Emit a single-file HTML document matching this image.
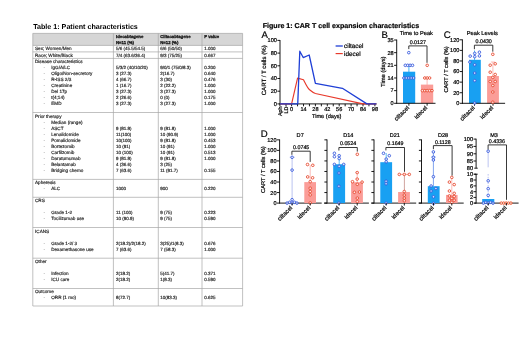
<!DOCTYPE html>
<html lang="en"><head><meta charset="utf-8"><title>Table 1 and Figure 1</title>
<style>html,body{margin:0;padding:0;background:#fff;width:520px;height:356px;overflow:hidden}svg{display:block}</style>
</head><body>
<svg width="520" height="356" viewBox="0 0 520 356" font-family="'Liberation Sans', Arial, Helvetica, sans-serif" text-rendering="geometricPrecision">
<rect width="520" height="356" fill="#fff"/>
<text x="33.2" y="28.9" font-size="7.15" font-weight="bold" fill="#000">Table 1: Patient characteristics</text>
<rect x="32.8" y="33.4" width="209.8" height="12.0" fill="#d6d6d6"/>
<g stroke="#a6a6a6" stroke-width="0.7" fill="none">
<line x1="32.8" y1="33.4" x2="242.6" y2="33.4"/>
<line x1="32.8" y1="45.4" x2="242.6" y2="45.4"/>
<line x1="32.8" y1="51.9" x2="242.6" y2="51.9"/>
<line x1="32.8" y1="58.4" x2="242.6" y2="58.4"/>
<line x1="32.8" y1="112.5" x2="242.6" y2="112.5"/>
<line x1="32.8" y1="179.4" x2="242.6" y2="179.4"/>
<line x1="32.8" y1="197.3" x2="242.6" y2="197.3"/>
<line x1="32.8" y1="227.5" x2="242.6" y2="227.5"/>
<line x1="32.8" y1="258.2" x2="242.6" y2="258.2"/>
<line x1="32.8" y1="288.5" x2="242.6" y2="288.5"/>
<line x1="32.8" y1="306.0" x2="242.6" y2="306.0"/>
<line x1="32.8" y1="33.4" x2="32.8" y2="306.0"/>
<line x1="113.4" y1="33.4" x2="113.4" y2="306.0"/>
<line x1="158.3" y1="33.4" x2="158.3" y2="306.0"/>
<line x1="202.0" y1="33.4" x2="202.0" y2="306.0"/>
<line x1="242.6" y1="33.4" x2="242.6" y2="306.0"/>
</g>
<g id="table-text" stroke="#222" stroke-width="0.16">
<text x="116.0" y="38.05" font-size="4.28" font-weight="bold" fill="#222" stroke="#111" stroke-width="0.28">Idecabtagene</text>
<text x="160.2" y="38.05" font-size="4.28" font-weight="bold" fill="#222" stroke="#111" stroke-width="0.28">Ciltacabtagene</text>
<text x="204.2" y="38.05" font-size="4.28" font-weight="bold" fill="#222" stroke="#111" stroke-width="0.28">P value</text>
<text x="116.0" y="44.05" font-size="4.28" font-weight="bold" fill="#222" stroke="#111" stroke-width="0.28">N=11 (%)</text>
<text x="160.2" y="44.05" font-size="4.28" font-weight="bold" fill="#222" stroke="#111" stroke-width="0.28">N=12 (%)</text>
<text x="35.0" y="50.45" font-size="4.64" fill="#222">Sex; Women/Men</text>
<text x="116.0" y="50.45" font-size="4.5" fill="#222">5/6 (45.5/54.5)</text>
<text x="160.2" y="50.45" font-size="4.5" fill="#222">6/6 (50/50)</text>
<text x="204.2" y="50.45" font-size="4.5" fill="#222">1.000</text>
<text x="35.0" y="56.95" font-size="4.64" fill="#222">Race; White/Black</text>
<text x="116.0" y="56.95" font-size="4.5" fill="#222">7/4 (63.6/36.4)</text>
<text x="160.2" y="56.95" font-size="4.5" fill="#222">9/3 (75/25)</text>
<text x="204.2" y="56.95" font-size="4.5" fill="#222">0.667</text>
<text x="35.0" y="63.05" font-size="4.64" fill="#222">Disease characteristics</text>
<text x="43.6" y="69.05" font-size="4.64" fill="#999" stroke="none">-</text>
<text x="51.2" y="69.05" font-size="4.64" fill="#222">IgG/A/LC</text>
<text x="116.0" y="69.05" font-size="4.5" fill="#222">5/3/2 (40/10/20)</text>
<text x="160.2" y="69.05" font-size="4.5" fill="#222">9/0/1 (75/0/8.3)</text>
<text x="204.2" y="69.05" font-size="4.5" fill="#222">0.200</text>
<text x="43.6" y="75.05" font-size="4.64" fill="#999" stroke="none">-</text>
<text x="51.2" y="75.05" font-size="4.64" fill="#222">Oligo/Non-secretory</text>
<text x="116.0" y="75.05" font-size="4.5" fill="#222">3 (27.3)</text>
<text x="160.2" y="75.05" font-size="4.5" fill="#222">2(16.7)</text>
<text x="204.2" y="75.05" font-size="4.5" fill="#222">0.640</text>
<text x="43.6" y="81.05" font-size="4.64" fill="#999" stroke="none">-</text>
<text x="51.2" y="81.05" font-size="4.64" fill="#222">R-ISS 2/3</text>
<text x="116.0" y="81.05" font-size="4.5" fill="#222">4 (66.7)</text>
<text x="160.2" y="81.05" font-size="4.5" fill="#222">3 (30)</text>
<text x="204.2" y="81.05" font-size="4.5" fill="#222">0.476</text>
<text x="43.6" y="87.05" font-size="4.64" fill="#999" stroke="none">-</text>
<text x="51.2" y="87.05" font-size="4.64" fill="#222">Creatinine</text>
<text x="116.0" y="87.05" font-size="4.5" fill="#222">1 (16.7)</text>
<text x="160.2" y="87.05" font-size="4.5" fill="#222">2 (22.2)</text>
<text x="204.2" y="87.05" font-size="4.5" fill="#222">1.000</text>
<text x="43.6" y="93.05" font-size="4.64" fill="#999" stroke="none">-</text>
<text x="51.2" y="93.05" font-size="4.64" fill="#222">Del 17p</text>
<text x="116.0" y="93.05" font-size="4.5" fill="#222">3 (27.3)</text>
<text x="160.2" y="93.05" font-size="4.5" fill="#222">3 (27.3)</text>
<text x="204.2" y="93.05" font-size="4.5" fill="#222">1.000</text>
<text x="43.6" y="99.05" font-size="4.64" fill="#999" stroke="none">-</text>
<text x="51.2" y="99.05" font-size="4.64" fill="#222">t(4;14)</text>
<text x="116.0" y="99.05" font-size="4.5" fill="#222">2 (26.6)</text>
<text x="160.2" y="99.05" font-size="4.5" fill="#222">0 (0)</text>
<text x="204.2" y="99.05" font-size="4.5" fill="#222">0.175</text>
<text x="43.6" y="105.05" font-size="4.64" fill="#999" stroke="none">-</text>
<text x="51.2" y="105.05" font-size="4.64" fill="#222">EMD</text>
<text x="116.0" y="105.05" font-size="4.5" fill="#222">3 (27.3)</text>
<text x="160.2" y="105.05" font-size="4.5" fill="#222">3 (27.3)</text>
<text x="204.2" y="105.05" font-size="4.5" fill="#222">1.000</text>
<text x="35.0" y="117.65" font-size="4.64" fill="#222">Prior therapy</text>
<text x="43.6" y="123.55" font-size="4.64" fill="#999" stroke="none">-</text>
<text x="51.2" y="123.55" font-size="4.64" fill="#222">Median (range)</text>
<text x="43.6" y="129.55" font-size="4.64" fill="#999" stroke="none">-</text>
<text x="51.2" y="129.55" font-size="4.64" fill="#222">ASCT</text>
<text x="116.0" y="129.55" font-size="4.5" fill="#222">9 (81.8)</text>
<text x="160.2" y="129.55" font-size="4.5" fill="#222">9 (81.8)</text>
<text x="204.2" y="129.55" font-size="4.5" fill="#222">1.000</text>
<text x="43.6" y="135.55" font-size="4.64" fill="#999" stroke="none">-</text>
<text x="51.2" y="135.55" font-size="4.64" fill="#222">Lenalidomide</text>
<text x="116.0" y="135.55" font-size="4.5" fill="#222">11(100)</text>
<text x="160.2" y="135.55" font-size="4.5" fill="#222">10 (90.9)</text>
<text x="204.2" y="135.55" font-size="4.5" fill="#222">1.000</text>
<text x="43.6" y="141.55" font-size="4.64" fill="#999" stroke="none">-</text>
<text x="51.2" y="141.55" font-size="4.64" fill="#222">Pomalidomide</text>
<text x="116.0" y="141.55" font-size="4.5" fill="#222">10(100)</text>
<text x="160.2" y="141.55" font-size="4.5" fill="#222">9 (81.8)</text>
<text x="204.2" y="141.55" font-size="4.5" fill="#222">0.453</text>
<text x="43.6" y="147.55" font-size="4.64" fill="#999" stroke="none">-</text>
<text x="51.2" y="147.55" font-size="4.64" fill="#222">Bortezomib</text>
<text x="116.0" y="147.55" font-size="4.5" fill="#222">10 (91)</text>
<text x="160.2" y="147.55" font-size="4.5" fill="#222">10 (91)</text>
<text x="204.2" y="147.55" font-size="4.5" fill="#222">1.000</text>
<text x="43.6" y="153.55" font-size="4.64" fill="#999" stroke="none">-</text>
<text x="51.2" y="153.55" font-size="4.64" fill="#222">Carfilzomib</text>
<text x="116.0" y="153.55" font-size="4.5" fill="#222">10 (100)</text>
<text x="160.2" y="153.55" font-size="4.5" fill="#222">10 (91)</text>
<text x="204.2" y="153.55" font-size="4.5" fill="#222">0.513</text>
<text x="43.6" y="159.55" font-size="4.64" fill="#999" stroke="none">-</text>
<text x="51.2" y="159.55" font-size="4.64" fill="#222">Daratumumab</text>
<text x="116.0" y="159.55" font-size="4.5" fill="#222">9 (81.8)</text>
<text x="160.2" y="159.55" font-size="4.5" fill="#222">9 (81.8)</text>
<text x="204.2" y="159.55" font-size="4.5" fill="#222">1.000</text>
<text x="43.6" y="165.55" font-size="4.64" fill="#999" stroke="none">-</text>
<text x="51.2" y="165.55" font-size="4.64" fill="#222">Belantamab</text>
<text x="116.0" y="165.55" font-size="4.5" fill="#222">4 (36.6)</text>
<text x="160.2" y="165.55" font-size="4.5" fill="#222">3 (25)</text>
<text x="43.6" y="171.55" font-size="4.64" fill="#999" stroke="none">-</text>
<text x="51.2" y="171.55" font-size="4.64" fill="#222">Bridging chemo</text>
<text x="116.0" y="171.55" font-size="4.5" fill="#222">7 (63.6)</text>
<text x="160.2" y="171.55" font-size="4.5" fill="#222">11 (91.7)</text>
<text x="204.2" y="171.55" font-size="4.5" fill="#222">0.155</text>
<text x="35.0" y="184.05" font-size="4.64" fill="#222">Apheresis</text>
<text x="43.6" y="190.05" font-size="4.64" fill="#999" stroke="none">-</text>
<text x="51.2" y="190.05" font-size="4.64" fill="#222">ALC</text>
<text x="116.0" y="190.05" font-size="4.5" fill="#222">1000</text>
<text x="160.2" y="190.05" font-size="4.5" fill="#222">900</text>
<text x="204.2" y="190.05" font-size="4.5" fill="#222">0.220</text>
<text x="35.0" y="202.35" font-size="4.64" fill="#222">CRS</text>
<text x="43.6" y="214.35" font-size="4.64" fill="#999" stroke="none">-</text>
<text x="51.2" y="214.35" font-size="4.64" fill="#222">Grade  1-2</text>
<text x="116.0" y="214.35" font-size="4.5" fill="#222">11 (100)</text>
<text x="160.2" y="214.35" font-size="4.5" fill="#222">9 (75)</text>
<text x="204.2" y="214.35" font-size="4.5" fill="#222">0.223</text>
<text x="43.6" y="220.35" font-size="4.64" fill="#999" stroke="none">-</text>
<text x="51.2" y="220.35" font-size="4.64" fill="#222">Tocilizumab use</text>
<text x="116.0" y="220.35" font-size="4.5" fill="#222">10 (90.9)</text>
<text x="160.2" y="220.35" font-size="4.5" fill="#222">9 (75)</text>
<text x="204.2" y="220.35" font-size="4.5" fill="#222">0.590</text>
<text x="35.0" y="232.55" font-size="4.64" fill="#222">ICANS</text>
<text x="43.6" y="244.55" font-size="4.64" fill="#999" stroke="none">-</text>
<text x="51.2" y="244.55" font-size="4.64" fill="#222">Grade 1-2/ 3</text>
<text x="116.0" y="244.55" font-size="4.5" fill="#222">2(18.2)/2(18.2)</text>
<text x="160.2" y="244.55" font-size="4.5" fill="#222">3(25)/1(8.3)</text>
<text x="204.2" y="244.55" font-size="4.5" fill="#222">0.676</text>
<text x="43.6" y="250.75" font-size="4.64" fill="#999" stroke="none">-</text>
<text x="51.2" y="250.75" font-size="4.64" fill="#222">Dexamethasone use</text>
<text x="116.0" y="250.75" font-size="4.5" fill="#222">7 (63.6)</text>
<text x="160.2" y="250.75" font-size="4.5" fill="#222">7 (58.3)</text>
<text x="204.2" y="250.75" font-size="4.5" fill="#222">1.000</text>
<text x="35.0" y="262.75" font-size="4.64" fill="#222">Other</text>
<text x="43.6" y="275.05" font-size="4.64" fill="#999" stroke="none">-</text>
<text x="51.2" y="275.05" font-size="4.64" fill="#222">Infection</text>
<text x="116.0" y="275.05" font-size="4.5" fill="#222">2(18.2)</text>
<text x="160.2" y="275.05" font-size="4.5" fill="#222">5(41.7)</text>
<text x="204.2" y="275.05" font-size="4.5" fill="#222">0.371</text>
<text x="43.6" y="281.05" font-size="4.64" fill="#999" stroke="none">-</text>
<text x="51.2" y="281.05" font-size="4.64" fill="#222">ICU care</text>
<text x="116.0" y="281.05" font-size="4.5" fill="#222">2(18.2)</text>
<text x="160.2" y="281.05" font-size="4.5" fill="#222">1(8.3)</text>
<text x="204.2" y="281.05" font-size="4.5" fill="#222">0.590</text>
<text x="35.0" y="293.35" font-size="4.64" fill="#222">Outcome</text>
<text x="43.6" y="299.35" font-size="4.64" fill="#999" stroke="none">-</text>
<text x="51.2" y="299.35" font-size="4.64" fill="#222">ORR (1 mo)</text>
<text x="116.0" y="299.35" font-size="4.5" fill="#222">8(72.7)</text>
<text x="160.2" y="299.35" font-size="4.5" fill="#222">10(83.3)</text>
<text x="204.2" y="299.35" font-size="4.5" fill="#222">0.625</text>
</g>
<text x="262.7" y="27.7" font-size="7.1" font-weight="bold" fill="#000" stroke="#000" stroke-width="0.2">Figure 1: CAR T cell expansion characteristics</text>
<text x="261.5" y="37.6" font-size="9.6" fill="#000" stroke="#000" stroke-width="0.2">A</text>
<line x1="280.0" y1="40.0" x2="280.0" y2="104.30000000000001" stroke="#000" stroke-width="0.9"/>
<line x1="279.6" y1="103.9" x2="376.5" y2="103.9" stroke="#000" stroke-width="0.9"/>
<line x1="277.4" y1="103.9" x2="280.0" y2="103.9" stroke="#000" stroke-width="0.9"/>
<text x="276.9" y="105.75" font-size="5.6" text-anchor="end" fill="#000" stroke="#000" stroke-width="0.2">0</text>
<line x1="277.4" y1="91.2" x2="280.0" y2="91.2" stroke="#000" stroke-width="0.9"/>
<text x="276.9" y="93.05" font-size="5.6" text-anchor="end" fill="#000" stroke="#000" stroke-width="0.2">20</text>
<line x1="277.4" y1="78.5" x2="280.0" y2="78.5" stroke="#000" stroke-width="0.9"/>
<text x="276.9" y="80.35" font-size="5.6" text-anchor="end" fill="#000" stroke="#000" stroke-width="0.2">40</text>
<line x1="277.4" y1="65.8" x2="280.0" y2="65.8" stroke="#000" stroke-width="0.9"/>
<text x="276.9" y="67.64999999999999" font-size="5.6" text-anchor="end" fill="#000" stroke="#000" stroke-width="0.2">60</text>
<line x1="277.4" y1="53.1" x2="280.0" y2="53.1" stroke="#000" stroke-width="0.9"/>
<text x="276.9" y="54.95" font-size="5.6" text-anchor="end" fill="#000" stroke="#000" stroke-width="0.2">80</text>
<line x1="277.4" y1="40.4" x2="280.0" y2="40.4" stroke="#000" stroke-width="0.9"/>
<text x="276.9" y="42.25" font-size="5.6" text-anchor="end" fill="#000" stroke="#000" stroke-width="0.2">100</text>
<line x1="291.6" y1="103.9" x2="291.6" y2="106.30000000000001" stroke="#000" stroke-width="0.9"/>
<line x1="297.55" y1="103.9" x2="297.55" y2="106.30000000000001" stroke="#000" stroke-width="0.9"/>
<line x1="303.5" y1="103.9" x2="303.5" y2="106.30000000000001" stroke="#000" stroke-width="0.9"/>
<line x1="309.45" y1="103.9" x2="309.45" y2="106.30000000000001" stroke="#000" stroke-width="0.9"/>
<line x1="315.4" y1="103.9" x2="315.4" y2="106.30000000000001" stroke="#000" stroke-width="0.9"/>
<line x1="321.35" y1="103.9" x2="321.35" y2="106.30000000000001" stroke="#000" stroke-width="0.9"/>
<line x1="327.3" y1="103.9" x2="327.3" y2="106.30000000000001" stroke="#000" stroke-width="0.9"/>
<line x1="333.25" y1="103.9" x2="333.25" y2="106.30000000000001" stroke="#000" stroke-width="0.9"/>
<line x1="339.2" y1="103.9" x2="339.2" y2="106.30000000000001" stroke="#000" stroke-width="0.9"/>
<line x1="345.15" y1="103.9" x2="345.15" y2="106.30000000000001" stroke="#000" stroke-width="0.9"/>
<line x1="351.1" y1="103.9" x2="351.1" y2="106.30000000000001" stroke="#000" stroke-width="0.9"/>
<line x1="357.05" y1="103.9" x2="357.05" y2="106.30000000000001" stroke="#000" stroke-width="0.9"/>
<line x1="363.0" y1="103.9" x2="363.0" y2="106.30000000000001" stroke="#000" stroke-width="0.9"/>
<line x1="368.95" y1="103.9" x2="368.95" y2="106.30000000000001" stroke="#000" stroke-width="0.9"/>
<line x1="374.9" y1="103.9" x2="374.9" y2="106.30000000000001" stroke="#000" stroke-width="0.9"/>
<text x="303.5" y="111.2" font-size="5.6" text-anchor="middle" fill="#000" stroke="#000" stroke-width="0.2">14</text>
<text x="315.4" y="111.2" font-size="5.6" text-anchor="middle" fill="#000" stroke="#000" stroke-width="0.2">28</text>
<text x="327.3" y="111.2" font-size="5.6" text-anchor="middle" fill="#000" stroke="#000" stroke-width="0.2">42</text>
<text x="339.2" y="111.2" font-size="5.6" text-anchor="middle" fill="#000" stroke="#000" stroke-width="0.2">56</text>
<text x="351.1" y="111.2" font-size="5.6" text-anchor="middle" fill="#000" stroke="#000" stroke-width="0.2">70</text>
<text x="363.0" y="111.2" font-size="5.6" text-anchor="middle" fill="#000" stroke="#000" stroke-width="0.2">84</text>
<text x="374.9" y="111.2" font-size="5.6" text-anchor="middle" fill="#000" stroke="#000" stroke-width="0.2">98</text>
<text x="291.6" y="111.2" font-size="5.6" text-anchor="middle" fill="#000" stroke="#000" stroke-width="0.2">0</text>
<line x1="279.9" y1="103.9" x2="279.9" y2="106.30000000000001" stroke="#000" stroke-width="0.9"/>
<text x="281.79999999999995" y="106.5" font-size="5.4" text-anchor="end" fill="#000" transform="rotate(-90 281.79999999999995 106.5)" stroke="#000" stroke-width="0.2">Aph</text>
<line x1="286.0" y1="103.9" x2="286.0" y2="106.30000000000001" stroke="#000" stroke-width="0.9"/>
<text x="287.9" y="106.5" font-size="5.4" text-anchor="end" fill="#000" transform="rotate(-90 287.9 106.5)" stroke="#000" stroke-width="0.2">LD</text>
<text x="326.7" y="118.4" font-size="5.65" text-anchor="middle" fill="#000" stroke="#000" stroke-width="0.2">Time (days)</text>
<text x="266.4" y="70.3" font-size="6.1" text-anchor="middle" fill="#000" transform="rotate(-90 266.4 70.3)" stroke="#000" stroke-width="0.2">CART / T cells (%)</text>
<path d="M280.0,103.9 L291.6,103.9 L297.55,78.18 L303.5,79.77 C306.05,84.85 307.75,88.66 309.88,90.06 C312.0,91.84 313.7,92.91 315.4,93.55 L363.0,103.9 L376.3,103.9" fill="none" stroke="#e8392b" stroke-width="1.15" stroke-linejoin="round"/>
<polyline points="280.0,103.9 297.75,103.9 299.8,51.19 303.2,57.54 309.2,55.0 315.4,83.33 342.4,88.28 366.9,103.9 376.3,103.9" fill="none" stroke="#1f3fd6" stroke-width="1.3" stroke-linejoin="round"/>
<line x1="335.6" y1="46.0" x2="342.8" y2="46.0" stroke="#1f3fd6" stroke-width="1.3"/>
<line x1="335.6" y1="53.6" x2="342.8" y2="53.6" stroke="#e8392b" stroke-width="1.15"/>
<text x="344.1" y="48.2" font-size="6.35" fill="#000" stroke="#000" stroke-width="0.2">ciltacel</text>
<text x="344.1" y="55.8" font-size="6.35" fill="#000" stroke="#000" stroke-width="0.2">idecel</text>
<text x="381.6" y="38.0" font-size="9.6" fill="#000" stroke="#000" stroke-width="0.2">B</text>
<text x="416.3" y="35.3" font-size="5.7" text-anchor="middle" fill="#000" stroke="#000" stroke-width="0.2">Time to Peak</text>
<rect x="403.0" y="71.7" width="12.2" height="31.6" fill="#18a0f2"/>
<rect x="420.9" y="84.6" width="12.3" height="18.7" fill="#fb9d98"/>
<line x1="408.9" y1="65.5" x2="408.9" y2="72" stroke="#18a0f2" stroke-width="0.8"/>
<line x1="427.1" y1="77.8" x2="427.1" y2="93.6" stroke="#fb9d98" stroke-width="0.7"/>
<line x1="396.7" y1="39.6" x2="396.7" y2="103.7" stroke="#000" stroke-width="0.9"/>
<line x1="396.3" y1="103.3" x2="435.5" y2="103.3" stroke="#000" stroke-width="0.9"/>
<line x1="394.09999999999997" y1="103.3" x2="396.7" y2="103.3" stroke="#000" stroke-width="0.9"/>
<text x="393.7" y="105.14999999999999" font-size="5.6" text-anchor="end" fill="#000" stroke="#000" stroke-width="0.2">0</text>
<line x1="394.09999999999997" y1="90.64" x2="396.7" y2="90.64" stroke="#000" stroke-width="0.9"/>
<text x="393.7" y="92.49" font-size="5.6" text-anchor="end" fill="#000" stroke="#000" stroke-width="0.2">7</text>
<line x1="394.09999999999997" y1="77.98" x2="396.7" y2="77.98" stroke="#000" stroke-width="0.9"/>
<text x="393.7" y="79.83" font-size="5.6" text-anchor="end" fill="#000" stroke="#000" stroke-width="0.2">14</text>
<line x1="394.09999999999997" y1="65.32" x2="396.7" y2="65.32" stroke="#000" stroke-width="0.9"/>
<text x="393.7" y="67.16999999999999" font-size="5.6" text-anchor="end" fill="#000" stroke="#000" stroke-width="0.2">21</text>
<line x1="394.09999999999997" y1="52.66" x2="396.7" y2="52.66" stroke="#000" stroke-width="0.9"/>
<text x="393.7" y="54.51" font-size="5.6" text-anchor="end" fill="#000" stroke="#000" stroke-width="0.2">28</text>
<line x1="394.09999999999997" y1="40.0" x2="396.7" y2="40.0" stroke="#000" stroke-width="0.9"/>
<text x="393.7" y="41.85" font-size="5.6" text-anchor="end" fill="#000" stroke="#000" stroke-width="0.2">35</text>
<line x1="408.9" y1="103.3" x2="408.9" y2="105.7" stroke="#000" stroke-width="0.9"/>
<line x1="427.1" y1="103.3" x2="427.1" y2="105.7" stroke="#000" stroke-width="0.9"/>
<text x="384.7" y="71.7" font-size="5.8" text-anchor="middle" fill="#000" transform="rotate(-90 384.7 71.7)" stroke="#000" stroke-width="0.2">Time (days)</text>
<g fill="#fff" fill-opacity="0.75" stroke="#3558dc" stroke-width="0.9">
<circle cx="408.8" cy="52.66" r="1.3"/>
<circle cx="405.3" cy="65.32" r="1.3"/>
<circle cx="407.7" cy="65.32" r="1.3"/>
<circle cx="410.1" cy="65.32" r="1.3"/>
<circle cx="412.5" cy="65.32" r="1.3"/>
<circle cx="403.9" cy="77.98" r="1.3"/>
<circle cx="406.3" cy="77.98" r="1.3"/>
<circle cx="408.8" cy="77.98" r="1.3"/>
<circle cx="411.2" cy="77.98" r="1.3"/>
<circle cx="413.6" cy="77.98" r="1.3"/>
</g>
<g fill="#fff" fill-opacity="0.75" stroke="#e6482f" stroke-width="0.9">
<circle cx="427.2" cy="65.32" r="1.3"/>
<circle cx="424.8" cy="77.98" r="1.3"/>
<circle cx="427.2" cy="77.98" r="1.3"/>
<circle cx="429.6" cy="77.98" r="1.3"/>
<circle cx="422.4" cy="90.64" r="1.3"/>
<circle cx="424.8" cy="90.64" r="1.3"/>
<circle cx="427.2" cy="90.64" r="1.3"/>
<circle cx="429.6" cy="90.64" r="1.3"/>
<circle cx="432.0" cy="90.64" r="1.3"/>
</g>
<path d="M408.8,49.1 V45.9 H427.0 V62.8" fill="none" stroke="#222" stroke-width="0.9"/>
<text x="417.8" y="43.6" font-size="5.3" text-anchor="middle" fill="#000" stroke="#000" stroke-width="0.2">0.0127</text>
<text x="409.59999999999997" y="108.3" font-size="6.0" text-anchor="end" fill="#222" transform="rotate(-45 409.59999999999997 108.3)" stroke="#000" stroke-width="0.2">ciltacel</text>
<text x="427.8" y="108.3" font-size="6.0" text-anchor="end" fill="#222" transform="rotate(-45 427.8 108.3)" stroke="#000" stroke-width="0.2">idecel</text>
<text x="443.8" y="38.0" font-size="9.6" fill="#000" stroke="#000" stroke-width="0.2">C</text>
<text x="482.3" y="35.3" font-size="5.7" text-anchor="middle" fill="#000" stroke="#000" stroke-width="0.2">Peak Levels</text>
<rect x="469.0" y="59.8" width="11.8" height="43.5" fill="#18a0f2"/>
<rect x="487.1" y="76.0" width="11.8" height="27.3" fill="#fb9d98"/>
<line x1="474.5" y1="50.5" x2="474.5" y2="60" stroke="#18a0f2" stroke-width="0.7"/>
<line x1="492.9" y1="62.0" x2="492.9" y2="90.0" stroke="#fb9d98" stroke-width="0.7"/>
<line x1="490.9" y1="62.0" x2="494.9" y2="62.0" stroke="#fb9d98" stroke-width="0.7"/>
<line x1="462.4" y1="39.4" x2="462.4" y2="103.7" stroke="#000" stroke-width="0.9"/>
<line x1="462.0" y1="103.3" x2="505.1" y2="103.3" stroke="#000" stroke-width="0.9"/>
<line x1="459.79999999999995" y1="103.3" x2="462.4" y2="103.3" stroke="#000" stroke-width="0.9"/>
<text x="459.4" y="105.14999999999999" font-size="5.6" text-anchor="end" fill="#000" stroke="#000" stroke-width="0.2">0</text>
<line x1="459.79999999999995" y1="92.72" x2="462.4" y2="92.72" stroke="#000" stroke-width="0.9"/>
<text x="459.4" y="94.57" font-size="5.6" text-anchor="end" fill="#000" stroke="#000" stroke-width="0.2">20</text>
<line x1="459.79999999999995" y1="82.13" x2="462.4" y2="82.13" stroke="#000" stroke-width="0.9"/>
<text x="459.4" y="83.97999999999999" font-size="5.6" text-anchor="end" fill="#000" stroke="#000" stroke-width="0.2">40</text>
<line x1="459.79999999999995" y1="71.55" x2="462.4" y2="71.55" stroke="#000" stroke-width="0.9"/>
<text x="459.4" y="73.39999999999999" font-size="5.6" text-anchor="end" fill="#000" stroke="#000" stroke-width="0.2">60</text>
<line x1="459.79999999999995" y1="60.97" x2="462.4" y2="60.97" stroke="#000" stroke-width="0.9"/>
<text x="459.4" y="62.82" font-size="5.6" text-anchor="end" fill="#000" stroke="#000" stroke-width="0.2">80</text>
<line x1="459.79999999999995" y1="50.38" x2="462.4" y2="50.38" stroke="#000" stroke-width="0.9"/>
<text x="459.4" y="52.230000000000004" font-size="5.6" text-anchor="end" fill="#000" stroke="#000" stroke-width="0.2">100</text>
<line x1="459.79999999999995" y1="39.8" x2="462.4" y2="39.8" stroke="#000" stroke-width="0.9"/>
<text x="459.4" y="41.65" font-size="5.6" text-anchor="end" fill="#000" stroke="#000" stroke-width="0.2">120</text>
<line x1="474.5" y1="103.3" x2="474.5" y2="105.7" stroke="#000" stroke-width="0.9"/>
<line x1="493.0" y1="103.3" x2="493.0" y2="105.7" stroke="#000" stroke-width="0.9"/>
<text x="448.4" y="69.4" font-size="5.65" text-anchor="middle" fill="#000" transform="rotate(-90 448.4 69.4)" stroke="#000" stroke-width="0.2">CART / T cells (%)</text>
<g fill="#fff" fill-opacity="0.75" stroke="#3558dc" stroke-width="0.9">
<circle cx="470.2" cy="56.1" r="1.3"/>
<circle cx="474.7" cy="53.4" r="1.3"/>
<circle cx="479.4" cy="52.2" r="1.3"/>
<circle cx="474.7" cy="56.7" r="1.3"/>
<circle cx="479.4" cy="55.9" r="1.3"/>
<circle cx="469.9" cy="62.1" r="1.3"/>
<circle cx="474.7" cy="64.8" r="1.3"/>
<circle cx="474.7" cy="73.1" r="1.3"/>
<circle cx="474.7" cy="80.6" r="1.3"/>
<circle cx="474.7" cy="103.0" r="1.3"/>
</g>
<g fill="#fff" fill-opacity="0.75" stroke="#e6482f" stroke-width="0.9">
<circle cx="492.8" cy="54.3" r="1.3"/>
<circle cx="490.2" cy="65.2" r="1.3"/>
<circle cx="495.2" cy="63.8" r="1.3"/>
<circle cx="490.2" cy="72.2" r="1.3"/>
<circle cx="495.2" cy="74.5" r="1.3"/>
<circle cx="492.8" cy="77.4" r="1.3"/>
<circle cx="490.2" cy="81.5" r="1.3"/>
<circle cx="495.2" cy="81.5" r="1.3"/>
<circle cx="492.8" cy="85.5" r="1.3"/>
<circle cx="492.8" cy="92.0" r="1.3"/>
<circle cx="492.8" cy="102.2" r="1.3"/>
</g>
<path d="M474.4,49.2 V45.2 H492.8 V51.7" fill="none" stroke="#222" stroke-width="0.9"/>
<text x="483.7" y="43.4" font-size="5.3" text-anchor="middle" fill="#000" stroke="#000" stroke-width="0.2">0.0430</text>
<text x="475.2" y="108.3" font-size="6.0" text-anchor="end" fill="#222" transform="rotate(-45 475.2 108.3)" stroke="#000" stroke-width="0.2">ciltacel</text>
<text x="493.7" y="108.3" font-size="6.0" text-anchor="end" fill="#222" transform="rotate(-45 493.7 108.3)" stroke="#000" stroke-width="0.2">idecel</text>
<text x="260.7" y="137.4" font-size="9.6" fill="#000" stroke="#000" stroke-width="0.2">D</text>
<line x1="279.6" y1="139.45" x2="279.6" y2="203.5" stroke="#000" stroke-width="0.9"/>
<line x1="279.20000000000005" y1="203.1" x2="321.7" y2="203.1" stroke="#000" stroke-width="0.9"/>
<line x1="277.0" y1="203.1" x2="279.6" y2="203.1" stroke="#000" stroke-width="0.9"/>
<text x="276.6" y="205.04999999999998" font-size="5.6" text-anchor="end" fill="#000" stroke="#000" stroke-width="0.2">0</text>
<line x1="277.0" y1="192.56" x2="279.6" y2="192.56" stroke="#000" stroke-width="0.9"/>
<text x="276.6" y="194.51" font-size="5.6" text-anchor="end" fill="#000" stroke="#000" stroke-width="0.2">20</text>
<line x1="277.0" y1="182.02" x2="279.6" y2="182.02" stroke="#000" stroke-width="0.9"/>
<text x="276.6" y="183.97" font-size="5.6" text-anchor="end" fill="#000" stroke="#000" stroke-width="0.2">40</text>
<line x1="277.0" y1="171.47" x2="279.6" y2="171.47" stroke="#000" stroke-width="0.9"/>
<text x="276.6" y="173.42" font-size="5.6" text-anchor="end" fill="#000" stroke="#000" stroke-width="0.2">60</text>
<line x1="277.0" y1="160.93" x2="279.6" y2="160.93" stroke="#000" stroke-width="0.9"/>
<text x="276.6" y="162.88" font-size="5.6" text-anchor="end" fill="#000" stroke="#000" stroke-width="0.2">80</text>
<line x1="277.0" y1="150.39" x2="279.6" y2="150.39" stroke="#000" stroke-width="0.9"/>
<text x="276.6" y="152.33999999999997" font-size="5.6" text-anchor="end" fill="#000" stroke="#000" stroke-width="0.2">100</text>
<line x1="277.0" y1="139.85" x2="279.6" y2="139.85" stroke="#000" stroke-width="0.9"/>
<text x="276.6" y="141.79999999999998" font-size="5.6" text-anchor="end" fill="#000" stroke="#000" stroke-width="0.2">120</text>
<text x="264.7" y="169.6" font-size="5.7" text-anchor="middle" fill="#000" transform="rotate(-90 264.7 169.6)" stroke="#000" stroke-width="0.2">CART / T cells (%)</text>
<text x="300.2" y="137.3" font-size="5.6" text-anchor="middle" fill="#000" stroke="#000" stroke-width="0.2">D7</text>
<line x1="292.1" y1="157.3" x2="292.1" y2="203" stroke="#a9b4ee" stroke-width="0.8"/>
<line x1="289.7" y1="157.3" x2="294.8" y2="157.3" stroke="#a9b4ee" stroke-width="0.8"/>
<rect x="304.3" y="182.1" width="11.7" height="21.0" fill="#fb9d98"/>
<line x1="310.2" y1="165" x2="310.2" y2="200" stroke="#fb9d98" stroke-width="0.7"/>
<g fill="#fff" fill-opacity="0.75" stroke="#3558dc" stroke-width="0.9">
<circle cx="292.1" cy="157.3" r="1.3"/>
<circle cx="292.1" cy="170.1" r="1.3"/>
<circle cx="287.1" cy="203.1" r="1.3"/>
<circle cx="289.7" cy="202.3" r="1.3"/>
<circle cx="292.1" cy="199.7" r="1.3"/>
<circle cx="292.1" cy="203.1" r="1.3"/>
<circle cx="294.5" cy="202.3" r="1.3"/>
<circle cx="296.9" cy="203.1" r="1.3"/>
</g>
<g fill="#fff" fill-opacity="0.75" stroke="#e6482f" stroke-width="0.9">
<circle cx="307.5" cy="164.5" r="1.3"/>
<circle cx="312.8" cy="165.3" r="1.3"/>
<circle cx="307.7" cy="176.9" r="1.3"/>
<circle cx="312.6" cy="177.8" r="1.3"/>
<circle cx="310.2" cy="181.7" r="1.3"/>
<circle cx="310.2" cy="188.2" r="1.3"/>
<circle cx="310.2" cy="191.5" r="1.3"/>
<circle cx="310.2" cy="194.9" r="1.3"/>
<circle cx="310.2" cy="202.9" r="1.3"/>
</g>
<line x1="292.1" y1="203.1" x2="292.1" y2="205.5" stroke="#000" stroke-width="0.9"/>
<line x1="310.2" y1="203.1" x2="310.2" y2="205.5" stroke="#000" stroke-width="0.9"/>
<path d="M291.9,154.8 V151.2 H310.2 V161.9" fill="none" stroke="#222" stroke-width="0.9"/>
<text x="301.2" y="149.0" font-size="5.3" text-anchor="middle" fill="#000" stroke="#000" stroke-width="0.2">0.0745</text>
<text x="292.8" y="208.29999999999998" font-size="6.0" text-anchor="end" fill="#222" transform="rotate(-45 292.8 208.29999999999998)" stroke="#000" stroke-width="0.2">ciltacel</text>
<text x="310.9" y="208.29999999999998" font-size="6.0" text-anchor="end" fill="#222" transform="rotate(-45 310.9 208.29999999999998)" stroke="#000" stroke-width="0.2">idecel</text>
<line x1="327.0" y1="139.45" x2="327.0" y2="203.5" stroke="#000" stroke-width="0.9"/>
<line x1="324.1" y1="203.1" x2="368.9" y2="203.1" stroke="#000" stroke-width="0.9"/>
<line x1="324.4" y1="203.1" x2="327.0" y2="203.1" stroke="#000" stroke-width="0.9"/>
<line x1="324.4" y1="192.56" x2="327.0" y2="192.56" stroke="#000" stroke-width="0.9"/>
<line x1="324.4" y1="182.02" x2="327.0" y2="182.02" stroke="#000" stroke-width="0.9"/>
<line x1="324.4" y1="171.47" x2="327.0" y2="171.47" stroke="#000" stroke-width="0.9"/>
<line x1="324.4" y1="160.93" x2="327.0" y2="160.93" stroke="#000" stroke-width="0.9"/>
<line x1="324.4" y1="150.39" x2="327.0" y2="150.39" stroke="#000" stroke-width="0.9"/>
<line x1="324.4" y1="139.85" x2="327.0" y2="139.85" stroke="#000" stroke-width="0.9"/>
<text x="348.3" y="137.3" font-size="5.5" text-anchor="middle" fill="#000" stroke="#000" stroke-width="0.2">D14</text>
<rect x="333.2" y="164.3" width="11.9" height="38.8" fill="#18a0f2"/>
<rect x="351.1" y="182.2" width="11.8" height="20.9" fill="#fb9d98"/>
<line x1="339.2" y1="155" x2="339.2" y2="165" stroke="#18a0f2" stroke-width="0.7"/>
<line x1="357.2" y1="172.4" x2="357.2" y2="200" stroke="#fb9d98" stroke-width="0.7"/>
<line x1="355.6" y1="172.4" x2="358.8" y2="172.4" stroke="#fb9d98" stroke-width="0.7"/>
<g fill="#fff" fill-opacity="0.75" stroke="#3558dc" stroke-width="0.9">
<circle cx="334.4" cy="153.3" r="1.3"/>
<circle cx="334.4" cy="156.7" r="1.3"/>
<circle cx="339.2" cy="155.7" r="1.3"/>
<circle cx="339.2" cy="158.6" r="1.3"/>
<circle cx="334.4" cy="164.4" r="1.3"/>
<circle cx="339.2" cy="166.3" r="1.3"/>
<circle cx="343.7" cy="164.4" r="1.3"/>
<circle cx="339.0" cy="173.0" r="1.3"/>
<circle cx="338.9" cy="186.2" r="1.3"/>
<circle cx="338.9" cy="203.1" r="1.3"/>
</g>
<g fill="#fff" fill-opacity="0.75" stroke="#e6482f" stroke-width="0.9">
<circle cx="357.3" cy="154.3" r="1.3"/>
<circle cx="357.2" cy="172.6" r="1.3"/>
<circle cx="357.2" cy="179.1" r="1.3"/>
<circle cx="352.5" cy="181.7" r="1.3"/>
<circle cx="362.1" cy="182.1" r="1.3"/>
<circle cx="357.3" cy="184.3" r="1.3"/>
<circle cx="354.4" cy="192.3" r="1.3"/>
<circle cx="359.4" cy="192.0" r="1.3"/>
<circle cx="357.3" cy="198.1" r="1.3"/>
<circle cx="357.3" cy="201.6" r="1.3"/>
</g>
<line x1="339.1" y1="203.1" x2="339.1" y2="205.5" stroke="#000" stroke-width="0.9"/>
<line x1="357.2" y1="203.1" x2="357.2" y2="205.5" stroke="#000" stroke-width="0.9"/>
<path d="M338.9,150.5 V147.5 H357.3 V151.6" fill="none" stroke="#222" stroke-width="0.9"/>
<text x="348.1" y="145.4" font-size="5.3" text-anchor="middle" fill="#000" stroke="#000" stroke-width="0.2">0.0524</text>
<text x="339.8" y="208.29999999999998" font-size="6.0" text-anchor="end" fill="#222" transform="rotate(-45 339.8 208.29999999999998)" stroke="#000" stroke-width="0.2">ciltacel</text>
<text x="357.9" y="208.29999999999998" font-size="6.0" text-anchor="end" fill="#222" transform="rotate(-45 357.9 208.29999999999998)" stroke="#000" stroke-width="0.2">idecel</text>
<line x1="374.0" y1="139.45" x2="374.0" y2="203.5" stroke="#000" stroke-width="0.9"/>
<line x1="371.3" y1="203.1" x2="416.2" y2="203.1" stroke="#000" stroke-width="0.9"/>
<line x1="371.4" y1="203.1" x2="374.0" y2="203.1" stroke="#000" stroke-width="0.9"/>
<line x1="371.4" y1="192.56" x2="374.0" y2="192.56" stroke="#000" stroke-width="0.9"/>
<line x1="371.4" y1="182.02" x2="374.0" y2="182.02" stroke="#000" stroke-width="0.9"/>
<line x1="371.4" y1="171.47" x2="374.0" y2="171.47" stroke="#000" stroke-width="0.9"/>
<line x1="371.4" y1="160.93" x2="374.0" y2="160.93" stroke="#000" stroke-width="0.9"/>
<line x1="371.4" y1="150.39" x2="374.0" y2="150.39" stroke="#000" stroke-width="0.9"/>
<line x1="371.4" y1="139.85" x2="374.0" y2="139.85" stroke="#000" stroke-width="0.9"/>
<text x="394.9" y="137.3" font-size="5.5" text-anchor="middle" fill="#000" stroke="#000" stroke-width="0.2">D21</text>
<rect x="380.3" y="162.2" width="11.8" height="40.9" fill="#18a0f2"/>
<rect x="398.1" y="192.0" width="11.8" height="11.1" fill="#fb9d98"/>
<line x1="386.2" y1="153" x2="386.2" y2="163" stroke="#18a0f2" stroke-width="0.7"/>
<line x1="404.4" y1="174.4" x2="404.4" y2="201" stroke="#b0675c" stroke-width="0.6"/>
<line x1="399.3" y1="174.4" x2="409.3" y2="174.4" stroke="#e6482f" stroke-width="0.5"/>
<g fill="#fff" fill-opacity="0.75" stroke="#3558dc" stroke-width="0.9">
<circle cx="383.5" cy="153.3" r="1.3"/>
<circle cx="389.3" cy="155.7" r="1.3"/>
<circle cx="386.2" cy="159.1" r="1.3"/>
<circle cx="386.2" cy="161.8" r="1.3"/>
<circle cx="386.1" cy="181.2" r="1.3"/>
<circle cx="386.1" cy="183.8" r="1.3"/>
<circle cx="386.1" cy="203.1" r="1.3"/>
</g>
<g fill="#fff" fill-opacity="0.75" stroke="#e6482f" stroke-width="0.9">
<circle cx="399.3" cy="174.4" r="1.3"/>
<circle cx="404.3" cy="174.4" r="1.3"/>
<circle cx="409.3" cy="174.4" r="1.3"/>
<circle cx="404.3" cy="191.5" r="1.3"/>
<circle cx="404.3" cy="195.1" r="1.3"/>
<circle cx="404.3" cy="198.1" r="1.3"/>
<circle cx="404.3" cy="200.8" r="1.3"/>
</g>
<line x1="386.2" y1="203.1" x2="386.2" y2="205.5" stroke="#000" stroke-width="0.9"/>
<line x1="404.3" y1="203.1" x2="404.3" y2="205.5" stroke="#000" stroke-width="0.9"/>
<path d="M385.9,150.4 V147.5 H404.5 V171.8" fill="none" stroke="#222" stroke-width="0.9"/>
<text x="395.4" y="145.4" font-size="5.3" text-anchor="middle" fill="#000" stroke="#000" stroke-width="0.2">0.1649</text>
<text x="386.9" y="208.29999999999998" font-size="6.0" text-anchor="end" fill="#222" transform="rotate(-45 386.9 208.29999999999998)" stroke="#000" stroke-width="0.2">ciltacel</text>
<text x="405.0" y="208.29999999999998" font-size="6.0" text-anchor="end" fill="#222" transform="rotate(-45 405.0 208.29999999999998)" stroke="#000" stroke-width="0.2">idecel</text>
<line x1="421.5" y1="139.45" x2="421.5" y2="203.5" stroke="#000" stroke-width="0.9"/>
<line x1="418.6" y1="203.1" x2="463.7" y2="203.1" stroke="#000" stroke-width="0.9"/>
<line x1="418.9" y1="203.1" x2="421.5" y2="203.1" stroke="#000" stroke-width="0.9"/>
<line x1="418.9" y1="192.56" x2="421.5" y2="192.56" stroke="#000" stroke-width="0.9"/>
<line x1="418.9" y1="182.02" x2="421.5" y2="182.02" stroke="#000" stroke-width="0.9"/>
<line x1="418.9" y1="171.47" x2="421.5" y2="171.47" stroke="#000" stroke-width="0.9"/>
<line x1="418.9" y1="160.93" x2="421.5" y2="160.93" stroke="#000" stroke-width="0.9"/>
<line x1="418.9" y1="150.39" x2="421.5" y2="150.39" stroke="#000" stroke-width="0.9"/>
<line x1="418.9" y1="139.85" x2="421.5" y2="139.85" stroke="#000" stroke-width="0.9"/>
<text x="443" y="137.3" font-size="5.5" text-anchor="middle" fill="#000" stroke="#000" stroke-width="0.2">D28</text>
<rect x="427.8" y="186.2" width="11.8" height="16.9" fill="#18a0f2"/>
<rect x="446.0" y="194.9" width="11.6" height="8.2" fill="#fb9d98"/>
<line x1="433.4" y1="151.5" x2="433.4" y2="186" stroke="#4a7de8" stroke-width="0.7"/>
<line x1="431.2" y1="157.0" x2="435.7" y2="157.0" stroke="#4a7de8" stroke-width="0.6"/>
<line x1="451.8" y1="178" x2="451.8" y2="201" stroke="#fb9d98" stroke-width="0.7"/>
<g fill="#fff" fill-opacity="0.75" stroke="#3558dc" stroke-width="0.9">
<circle cx="433.4" cy="151.9" r="1.3"/>
<circle cx="433.4" cy="157.3" r="1.3"/>
<circle cx="433.4" cy="160.0" r="1.3"/>
<circle cx="433.4" cy="176.7" r="1.3"/>
<circle cx="431.1" cy="186.0" r="1.3"/>
<circle cx="435.9" cy="188.5" r="1.3"/>
<circle cx="431.1" cy="191.0" r="1.3"/>
<circle cx="433.5" cy="196.8" r="1.3"/>
<circle cx="433.5" cy="203.4" r="1.3"/>
</g>
<g fill="#fff" fill-opacity="0.75" stroke="#e6482f" stroke-width="0.9">
<circle cx="451.8" cy="177.4" r="1.3"/>
<circle cx="449.4" cy="182.1" r="1.3"/>
<circle cx="454.2" cy="184.6" r="1.3"/>
<circle cx="449.4" cy="191.0" r="1.3"/>
<circle cx="454.2" cy="193.3" r="1.3"/>
<circle cx="449.4" cy="195.9" r="1.3"/>
<circle cx="454.2" cy="196.5" r="1.3"/>
<circle cx="451.8" cy="198.3" r="1.3"/>
<circle cx="449.4" cy="200.2" r="1.3"/>
<circle cx="454.2" cy="200.2" r="1.3"/>
<circle cx="451.8" cy="202.4" r="1.3"/>
</g>
<line x1="433.5" y1="203.1" x2="433.5" y2="205.5" stroke="#000" stroke-width="0.9"/>
<line x1="451.8" y1="203.1" x2="451.8" y2="205.5" stroke="#000" stroke-width="0.9"/>
<path d="M433.4,149.2 V145.6 H452.1 V175.6" fill="none" stroke="#222" stroke-width="0.9"/>
<text x="442.8" y="143.5" font-size="5.3" text-anchor="middle" fill="#000" stroke="#000" stroke-width="0.2">0.1128</text>
<text x="434.2" y="208.29999999999998" font-size="6.0" text-anchor="end" fill="#222" transform="rotate(-45 434.2 208.29999999999998)" stroke="#000" stroke-width="0.2">ciltacel</text>
<text x="452.5" y="208.29999999999998" font-size="6.0" text-anchor="end" fill="#222" transform="rotate(-45 452.5 208.29999999999998)" stroke="#000" stroke-width="0.2">idecel</text>
<line x1="476.1" y1="138.7" x2="476.1" y2="168.2" stroke="#000" stroke-width="0.9"/>
<line x1="476.1" y1="173.9" x2="476.1" y2="203.5" stroke="#000" stroke-width="0.9"/>
<line x1="474.3" y1="168.2" x2="477.70000000000005" y2="168.2" stroke="#000" stroke-width="0.9"/>
<line x1="474.3" y1="174.2" x2="477.70000000000005" y2="174.2" stroke="#000" stroke-width="0.9"/>
<line x1="473.5" y1="139.1" x2="476.1" y2="139.1" stroke="#000" stroke-width="0.9"/>
<text x="473.1" y="141.04999999999998" font-size="5.6" text-anchor="end" fill="#000" stroke="#000" stroke-width="0.2">100</text>
<line x1="473.5" y1="146.4" x2="476.1" y2="146.4" stroke="#000" stroke-width="0.9"/>
<text x="473.1" y="148.35" font-size="5.6" text-anchor="end" fill="#000" stroke="#000" stroke-width="0.2">95</text>
<line x1="473.5" y1="153.8" x2="476.1" y2="153.8" stroke="#000" stroke-width="0.9"/>
<text x="473.1" y="155.75" font-size="5.6" text-anchor="end" fill="#000" stroke="#000" stroke-width="0.2">90</text>
<line x1="473.5" y1="161.0" x2="476.1" y2="161.0" stroke="#000" stroke-width="0.9"/>
<text x="473.1" y="162.95" font-size="5.6" text-anchor="end" fill="#000" stroke="#000" stroke-width="0.2">85</text>
<text x="473.1" y="170.14999999999998" font-size="5.6" text-anchor="end" fill="#000" stroke="#000" stroke-width="0.2">80</text>
<line x1="473.5" y1="174.2" x2="476.1" y2="174.2" stroke="#000" stroke-width="0.9"/>
<text x="473.1" y="176.14999999999998" font-size="5.6" text-anchor="end" fill="#000" stroke="#000" stroke-width="0.2">10</text>
<line x1="473.5" y1="180.0" x2="476.1" y2="180.0" stroke="#000" stroke-width="0.9"/>
<text x="473.1" y="181.95" font-size="5.6" text-anchor="end" fill="#000" stroke="#000" stroke-width="0.2">8</text>
<line x1="473.5" y1="185.9" x2="476.1" y2="185.9" stroke="#000" stroke-width="0.9"/>
<text x="473.1" y="187.85" font-size="5.6" text-anchor="end" fill="#000" stroke="#000" stroke-width="0.2">6</text>
<line x1="473.5" y1="191.7" x2="476.1" y2="191.7" stroke="#000" stroke-width="0.9"/>
<text x="473.1" y="193.64999999999998" font-size="5.6" text-anchor="end" fill="#000" stroke="#000" stroke-width="0.2">4</text>
<line x1="473.5" y1="197.4" x2="476.1" y2="197.4" stroke="#000" stroke-width="0.9"/>
<text x="473.1" y="199.35" font-size="5.6" text-anchor="end" fill="#000" stroke="#000" stroke-width="0.2">2</text>
<line x1="473.5" y1="203.1" x2="476.1" y2="203.1" stroke="#000" stroke-width="0.9"/>
<text x="473.1" y="205.04999999999998" font-size="5.6" text-anchor="end" fill="#000" stroke="#000" stroke-width="0.2">0</text>
<line x1="474.3" y1="203.1" x2="518.6" y2="203.1" stroke="#000" stroke-width="0.9"/>
<text x="494.1" y="137.3" font-size="5.5" text-anchor="middle" fill="#000" stroke="#000" stroke-width="0.2">M3</text>
<rect x="482.2" y="199.0" width="12.1" height="4.1" fill="#18a0f2"/>
<line x1="488.15" y1="151.2" x2="488.15" y2="167.3" stroke="#a9b4ee" stroke-width="0.8"/>
<line x1="488.15" y1="174" x2="488.15" y2="199" stroke="#a9b4ee" stroke-width="0.8" stroke-dasharray="1.6 1.2"/>
<g fill="#fff" fill-opacity="0.75" stroke="#3558dc" stroke-width="0.9">
<circle cx="488.15" cy="151.2" r="1.3"/>
<circle cx="488.2" cy="180.8" r="1.3"/>
<circle cx="488.2" cy="188.7" r="1.3"/>
<circle cx="488.2" cy="195.4" r="1.3"/>
<circle cx="483.4" cy="203.1" r="1.3"/>
<circle cx="485.8" cy="202.3" r="1.3"/>
<circle cx="488.2" cy="203.1" r="1.3"/>
<circle cx="490.6" cy="202.3" r="1.3"/>
<circle cx="493.0" cy="203.1" r="1.3"/>
</g>
<g fill="#fff" fill-opacity="0.75" stroke="#f0562e" stroke-width="0.9">
<circle cx="501.3" cy="203.1" r="1.3"/>
<circle cx="503.7" cy="203.1" r="1.3"/>
<circle cx="506.1" cy="203.1" r="1.3"/>
<circle cx="508.5" cy="203.1" r="1.3"/>
<circle cx="510.9" cy="203.1" r="1.3"/>
</g>
<line x1="488.2" y1="203.1" x2="488.2" y2="205.5" stroke="#000" stroke-width="0.9"/>
<line x1="506.4" y1="203.1" x2="506.4" y2="205.5" stroke="#000" stroke-width="0.9"/>
<path d="M488.1,149.6 V144.9 H506.5 V199.8" fill="none" stroke="#222" stroke-width="0.9"/>
<text x="496.9" y="142.7" font-size="5.3" text-anchor="middle" fill="#000" stroke="#000" stroke-width="0.2">0.4336</text>
<text x="488.9" y="208.29999999999998" font-size="6.0" text-anchor="end" fill="#222" transform="rotate(-45 488.9 208.29999999999998)" stroke="#000" stroke-width="0.2">ciltacel</text>
<text x="507.09999999999997" y="208.29999999999998" font-size="6.0" text-anchor="end" fill="#222" transform="rotate(-45 507.09999999999997 208.29999999999998)" stroke="#000" stroke-width="0.2">idecel</text>
</svg>
</body></html>
